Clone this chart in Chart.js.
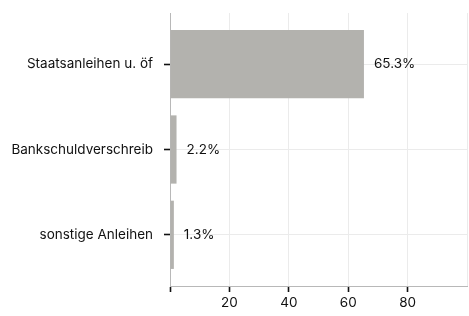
<!DOCTYPE html>
<html>
<head>
<meta charset="utf-8">
<script src="https://cdn.jsdelivr.net/npm/chart.js@4/dist/chart.umd.min.js"></script>
<style>
html,body{margin:0;padding:0;background:#fff;}
#wrap{width:469px;height:316px;position:relative;}
</style>
</head>
<body>
<div id="wrap"><canvas id="c" width="469" height="316"></canvas></div>
<script>
const categories = ["Staatsanleihen u. öf", "Bankschuldverschreib", "sonstige Anleihen"];
const values = [65.3, 2.2, 1.3];
const xTicks = [0, 20, 40, 60, 80, 100];

const FONT = "Inter, 'Noto Sans', sans-serif";
const FS = 13.5;
const TXT = '#111111';

const labelPlugin = {
  id: 'barLabels',
  afterDatasetsDraw(chart) {
    const ctx = chart.ctx;
    const meta = chart.getDatasetMeta(0);
    ctx.save();
    ctx.font = FS + "px " + FONT;
    ctx.fillStyle = TXT;
    ctx.textAlign = 'left';
    ctx.textBaseline = 'middle';
    meta.data.forEach((bar, i) => {
      ctx.fillText(values[i].toFixed(1) + '%', bar.x + 10, bar.y);
    });
    ctx.restore();
  }
};

new Chart(document.getElementById('c'), {
  type: 'bar',
  data: {
    datasets: [{
      data: values.map((v, i) => ({ x: v, y: i + 1 })),
      backgroundColor: '#b3b2ae',
      borderWidth: 0,
      barPercentage: 1,
      categoryPercentage: 0.8
    }]
  },
  options: {
    indexAxis: 'y',
    responsive: false,
    animation: false,
    devicePixelRatio: 1,
    layout: { padding: { top: 13, right: 2, bottom: 0, left: 0 } },
    plugins: { legend: { display: false }, tooltip: { enabled: false } },
    scales: {
      x: {
        type: 'linear',
        min: 0, max: 100,
        offset: false,
        afterBuildTicks: s => { s.ticks = xTicks.map(v => ({ value: v })); },
        afterFit: s => { s.height = 30; s.paddingLeft = 0; s.paddingRight = 0; },
        border: { display: true, color: '#b8b8b8', width: 1 },
        grid: {
          offset: false,
          color: '#ebebeb',
          lineWidth: 1,
          drawTicks: true,
          tickLength: 6,
          tickWidth: 1.6,
          tickColor: c => (c.tick && c.tick.value === 100) ? 'rgba(0,0,0,0)' : TXT
        },
        ticks: {
          font: { family: FONT, size: FS },
          color: TXT,
          padding: 3,
          maxRotation: 0,
          callback: v => (v === 0 || v === 100) ? '' : String(v)
        }
      },
      y: {
        type: 'linear',
        min: 0.4, max: 3.6,
        reverse: true,
        offset: false,
        afterBuildTicks: s => { s.ticks = categories.map((c, i) => ({ value: i + 1 })); },
        afterFit: s => { s.width = 170; s.paddingTop = 0; s.paddingBottom = 0; },
        border: { display: true, color: '#b8b8b8', width: 1 },
        grid: {
          offset: false,
          color: '#ebebeb',
          lineWidth: 1,
          drawTicks: true,
          tickLength: 6,
          tickWidth: 1.6,
          tickColor: TXT
        },
        ticks: {
          font: { family: FONT, size: FS },
          color: TXT,
          padding: 11,
          callback: v => categories[v - 1] || ''
        }
      }
    }
  },
  plugins: [labelPlugin]
});
</script>
</body>
</html>
